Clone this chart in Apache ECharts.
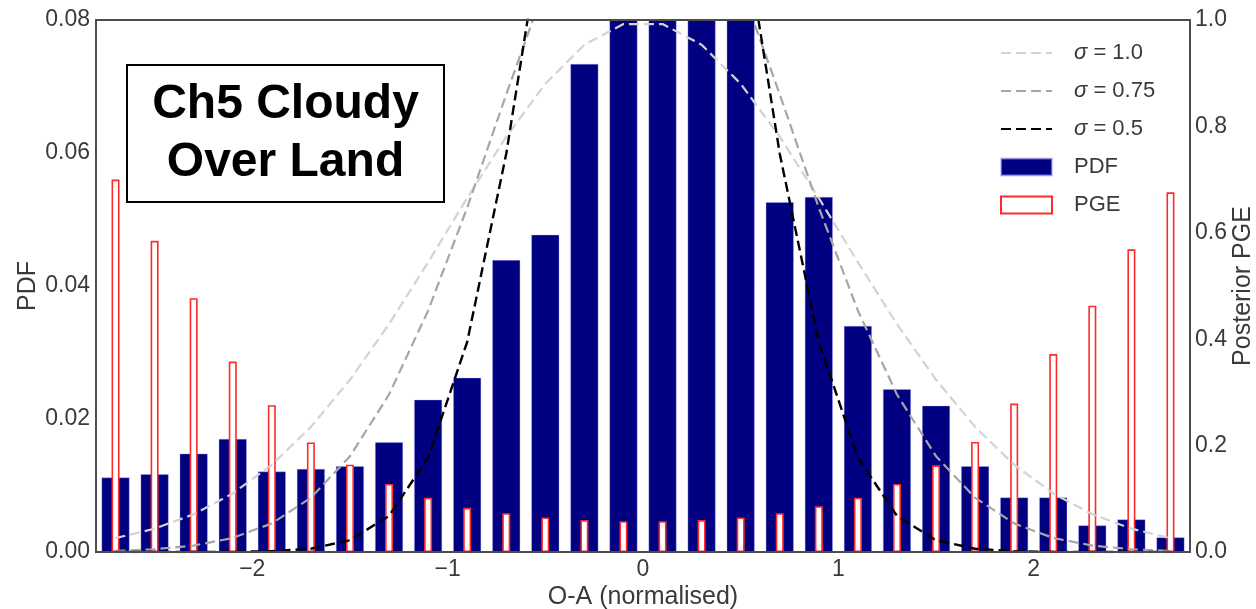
<!DOCTYPE html>
<html>
<head>
<meta charset="utf-8">
<script src="https://cdn.jsdelivr.net/npm/echarts@6/dist/echarts.min.js"></script>
<style>html,body{margin:0;padding:0;background:#fff}#c{width:1256px;height:609px}</style>
</head>
<body>
<div id="c"></div>
<script>
// Bin centres (O-A normalised)
const binCentres = [-2.7,-2.5,-2.3,-2.1,-1.9,-1.7,-1.5,-1.3,-1.1,-0.9,-0.7,-0.5,-0.3,-0.1,
                     0.1, 0.3, 0.5, 0.7, 0.9, 1.1, 1.3, 1.5, 1.7, 1.9, 2.1, 2.3, 2.5, 2.7];
// PDF (left axis) – central bars run off the top of the axis
const pdfValues = [0.0112,0.0117,0.0148,0.0170,0.0121,0.0125,0.0129,0.0165,0.0229,0.0262,
                   0.0439,0.0477,0.0734,0.0950,0.1050,0.1000,0.0900,0.0526,0.0534,0.0340,
                   0.0245,0.0220,0.0129,0.0082,0.0082,0.0040,0.0049,0.0022];
// Posterior PGE (right axis)
const pgeValues = [0.700,0.585,0.477,0.358,0.276,0.206,0.164,0.128,0.102,0.083,
                   0.073,0.065,0.060,0.058,0.058,0.060,0.065,0.073,0.086,0.102,
                   0.128,0.163,0.207,0.279,0.372,0.463,0.569,0.676];
// Dashed reference curves (left axis)
const sigma10 = [0.00208,0.00351,0.00567,0.00880,0.01312,0.01881,0.02590,0.03427,0.04357,0.05322,
                 0.06245,0.07041,0.07628,0.07939,0.07939,0.07628,0.07041,0.06245,0.05322,0.04357,
                 0.03427,0.02590,0.01881,0.01312,0.00880,0.00567,0.00351,0.00208];
const sigma075 = [0.00016,0.00041,0.00097,0.00211,0.00430,0.00815,0.01440,0.02368,0.03629,0.05178,
                  0.06882,0.08518,0.09820,0.10544,0.10544,0.09820,0.08518,0.06882,0.05178,0.03629,
                  0.02368,0.01440,0.00815,0.00430,0.00211,0.00097,0.00041,0.00016];
const sigma05 = [0.0000001,0.0000006,0.0000041,0.0000236,0.000117,0.000493,0.00177,0.00543,0.01419,0.03158,
                 0.05989,0.09679,0.13329,0.15642,0.15642,0.13329,0.09679,0.05989,0.03158,0.01419,
                 0.00543,0.00177,0.000493,0.000117,0.0000236,0.0000041,0.0000006,0.0000001];
const xTicks = [-2,-1,0,1,2];
const seriesNames = ['σ = 1.0','σ = 0.75','σ = 0.5','PDF','PGE'];

const pair = arr => binCentres.map((x,i)=>[x,arr[i]]);
const FONT = 'Liberation Sans';
const TXT = '#3a3a3a';

const chart = echarts.init(document.getElementById('c'), null, {renderer:'canvas'});
const xBase = {
  type:'value', min:-2.8, max:2.8,
  axisLine:{show:false}, axisTick:{show:false}, splitLine:{show:false}
};
const hideSym = {opacity:0, color:'rgba(0,0,0,0)'};
chart.setOption({
  animation:false,
  backgroundColor:'#fff',
  grid:{left:96, right:66, top:20, bottom:57, containLabel:false, outerBoundsMode:'none',
        show:true, borderColor:'#4d4d4d', borderWidth:2, backgroundColor:'transparent', z:10},
  xAxis:[
    Object.assign({}, xBase, {
      name:'O-A (normalised)', nameLocation:'middle', nameGap:33, nameMoveOverlap:false,
      nameTextStyle:{fontFamily:FONT, fontSize:25, color:TXT},
      axisLabel:{customValues:xTicks, fontFamily:FONT, fontSize:23, color:TXT, margin:6,
                 formatter:v=>String(v).replace('-','\u2212')}
    }),
    Object.assign({}, xBase, {show:false})
  ],
  yAxis:[
    {type:'value', min:0, max:0.08, interval:0.02, position:'left',
     name:'PDF', nameLocation:'middle', nameRotate:90, nameGap:55, nameMoveOverlap:false,
     nameTextStyle:{fontFamily:FONT, fontSize:25, color:TXT},
     axisLine:{show:false}, axisTick:{show:false}, splitLine:{show:false},
     axisLabel:{fontFamily:FONT, fontSize:23, color:TXT, margin:6, formatter:v=>v.toFixed(2)}},
    {type:'value', min:0, max:1, interval:0.2, position:'right',
     name:'Posterior PGE', nameLocation:'middle', nameRotate:90, nameGap:41, nameMoveOverlap:false,
     nameTextStyle:{fontFamily:FONT, fontSize:25, color:TXT},
     axisLine:{show:false}, axisTick:{show:false}, splitLine:{show:false},
     axisLabel:{fontFamily:FONT, fontSize:23, color:TXT, margin:5, formatter:v=>v.toFixed(1)}}
  ],
  legend:{
    orient:'vertical', left:995, top:37, itemWidth:51, itemHeight:17, itemGap:16,
    data:[
      {name:seriesNames[0], itemStyle:hideSym},
      {name:seriesNames[1], itemStyle:hideSym},
      {name:seriesNames[2], itemStyle:hideSym},
      {name:seriesNames[3], icon:'rect'},{name:seriesNames[4], icon:'rect'}
    ],
    formatter: n => n.replace('σ','{i|σ}'),
    textStyle:{fontFamily:FONT, fontSize:22, color:TXT, lineHeight:20, padding:[0,0,0,17],
      rich:{i:{fontFamily:FONT, fontSize:22, fontStyle:'italic', color:TXT, lineHeight:20}}}
  },
  series:[
    {name:seriesNames[3], type:'bar', xAxisIndex:0, yAxisIndex:0, barWidth:28, clip:true,
     itemStyle:{color:'#000080', borderColor:'rgba(170,170,255,0.6)', borderWidth:0.6},
     data:pair(pdfValues)},
    {name:seriesNames[0], type:'line', xAxisIndex:0, yAxisIndex:0, symbol:'none', clip:true,
     lineStyle:{color:'#d3d3d3', width:2.2, type:[10,5]}, itemStyle:{color:'#d3d3d3'},
     data:pair(sigma10)},
    {name:seriesNames[1], type:'line', xAxisIndex:0, yAxisIndex:0, symbol:'none', clip:true,
     lineStyle:{color:'#a6a6a6', width:2.2, type:[10,5]}, itemStyle:{color:'#a6a6a6'},
     data:pair(sigma075)},
    {name:seriesNames[2], type:'line', xAxisIndex:0, yAxisIndex:0, symbol:'none', clip:true,
     lineStyle:{color:'#000000', width:2.4, type:[10,5]}, itemStyle:{color:'#000000'},
     data:pair(sigma05)},
    {name:seriesNames[4], type:'bar', xAxisIndex:1, yAxisIndex:1, barWidth:8, clip:true,
     itemStyle:{color:'#ffffff', borderColor:'#ff2a2a', borderWidth:1.6},
     data:pair(pgeValues)}
  ],
  graphic:[{
    type:'group', left:126, top:64, z:100,
    children:[
      {type:'rect', shape:{x:0,y:0,width:317,height:137}, style:{fill:'#fff', stroke:'#000', lineWidth:2}},
      {type:'text', x:158.5, y:68.5, style:{text:'Ch5 Cloudy\nOver Land', fill:'#000',
        font:'bold 48px "Liberation Sans"', lineHeight:58, align:'center', verticalAlign:'middle'}}
    ]
  }]
});
</script>
</body>
</html>
